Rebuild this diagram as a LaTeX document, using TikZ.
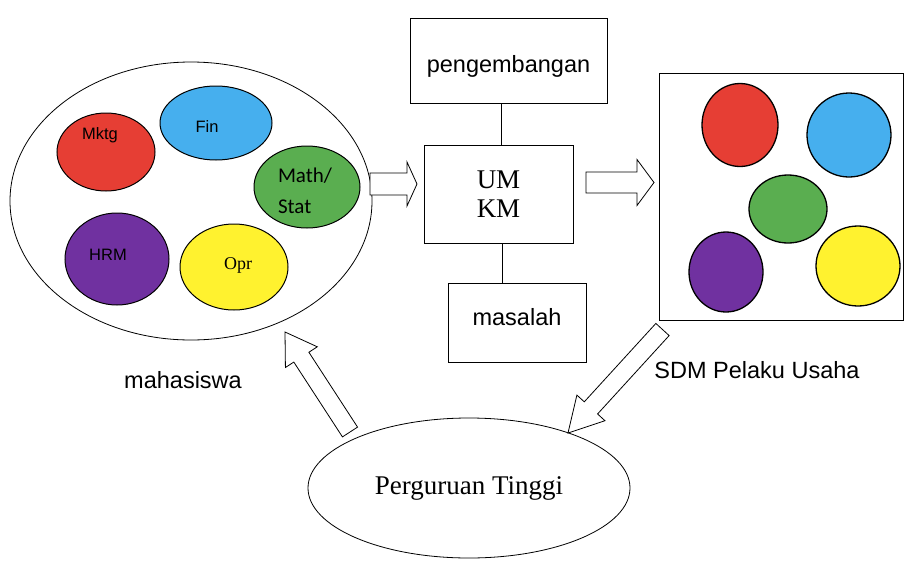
\documentclass[tikz,border=0pt]{standalone}
\usepackage{fontspec}
\setmainfont{Liberation Serif}
\setsansfont{Liberation Sans}
\newfontfamily\calibfont{Carlito}
\usetikzlibrary{shapes.geometric,calc}

\definecolor{mktgred}{HTML}{E63E34}
\definecolor{finblue}{HTML}{46AFEE}
\definecolor{mathgreen}{HTML}{5AAE50}
\definecolor{hrmpurple}{HTML}{7031A0}
\definecolor{opryellow}{HTML}{FFF22F}

% hollow block arrow: body half width, head half width, head length, from, to
\newcommand{\blockarrow}[5]{%
  \coordinate (bh) at ($(#5)!#3!(#4)$);
  \draw[fill=white, line width=0.8pt] ($(#4)!#1!90:(#5)$) -- ($(bh)!#1!90:(#5)$) -- ($(bh)!#2!90:(#5)$) -- (#5)
    -- ($(bh)!#2!-90:(#5)$) -- ($(bh)!#1!-90:(#5)$) -- ($(#4)!#1!-90:(#5)$) -- cycle;
}

\begin{document}
\begin{tikzpicture}[x=1pt, y=-1pt,
        box/.style={draw, line width=0.8pt, inner sep=0pt},
        ring/.style={ellipse, draw, line width=0.8pt, inner sep=0pt},
        dept/.style={ellipse, draw, line width=1pt, inner sep=0pt},
        small/.style={font=\sffamily\fontsize{16.5}{19}\selectfont},
        sanstext/.style={font=\sffamily\fontsize{23.5}{27}\selectfont},
        seriftext/.style={font=\fontsize{27}{29}\selectfont}
      ]
      \useasboundingbox (0,0) rectangle (905,560);

      % mahasiswa
      \node[ring, minimum width=362pt, minimum height=278pt] (mhs) at (191,201) {};
      \node[dept, fill=mktgred, minimum width=98pt, minimum height=78pt,
            label={[small, xshift=-6pt, yshift=17pt]center:Mktg}] (mktg) at (106,152) {};
      \node[dept, fill=finblue, minimum width=112pt, minimum height=74pt,
            label={[small, xshift=-9pt, yshift=-4pt]center:Fin}] (fin) at (216,123) {};
      \node[dept, fill=mathgreen, minimum width=106pt, minimum height=82pt,
            label={[font=\calibfont\fontsize{21}{31}\selectfont, align=left, xshift=-2pt, yshift=-4pt]center:Math/\\Stat}] (math) at (307,187) {};
      \node[dept, fill=hrmpurple, minimum width=104pt, minimum height=92pt,
            label={[small, xshift=-9pt, yshift=4pt]center:HRM}] (hrm) at (117,259) {};
      \node[dept, fill=opryellow, minimum width=108pt, minimum height=86pt,
            label={[font=\fontsize{18}{20}\selectfont, xshift=4pt, yshift=2pt]center:Opr}] (opr) at (234,267) {};
      \node[sanstext] (mhslbl) at (183,380) {mahasiswa};

      % UMKM
      \node[box, minimum width=197pt, minimum height=85pt,
            label={[sanstext, yshift=-6pt]center:pengembangan}] (peng) at (508.5,60.5) {};
      \node[box, minimum width=149pt, minimum height=98pt, seriftext, align=center] (umkm) at (498.5,194) {UM\\KM};
      \node[box, minimum width=138pt, minimum height=79pt,
            label={[sanstext, yshift=5pt]center:masalah}] (mas) at (517,322.5) {};
      \draw[line width=0.8pt] ([xshift=3pt]umkm.north) -- ([xshift=3pt]umkm.north |- peng.south);
      \draw[line width=0.8pt] ([xshift=4pt]umkm.south) -- ([xshift=4pt]umkm.south |- mas.north);

      % SDM pelaku usaha
      \node[box, minimum width=244pt, minimum height=247pt] (sdm) at (781,196.5) {};
      \node[dept, line width=1.3pt, fill=mktgred, minimum width=76pt, minimum height=83pt] (sred) at (740,125) {};
      \node[dept, line width=1.3pt, fill=finblue, minimum width=84pt, minimum height=84pt] (sblue) at (849,135) {};
      \node[dept, line width=1.3pt, fill=mathgreen, minimum width=78pt, minimum height=68pt] (sgreen) at (788,209) {};
      \node[dept, line width=1.3pt, fill=hrmpurple, minimum width=74pt, minimum height=80pt] (spurple) at (726,272) {};
      \node[dept, line width=1.3pt, fill=opryellow, minimum width=84pt, minimum height=80pt] (syellow) at (858,266) {};
      \node[sanstext] (sdmlbl) at (757,370) {SDM Pelaku Usaha};

      % perguruan tinggi
      \node[ring, minimum width=322pt, minimum height=140pt, seriftext] (pt) at (469,488) {Perguruan Tinggi};

      % block arrows
      \coordinate (a1s) at (370,184);
      \coordinate (a1e) at (417,184);
      \coordinate (a2s) at (586,182.5);
      \coordinate (a2e) at (654,182.5);
      \coordinate (a3s) at (662.5,329.5);
      \coordinate (a3e) at (568,433);
      \coordinate (a4s) at (350,432);
      \coordinate (a4e) at (285,332);
      \blockarrow{11pt}{22pt}{10pt}{a1s}{a1e}
      \blockarrow{10.5pt}{23pt}{17pt}{a2s}{a2e}
      \blockarrow{9pt}{19pt}{34pt}{a3s}{a3e}
      \blockarrow{9pt}{19pt}{30pt}{a4s}{a4e}
    \end{tikzpicture}
\end{document}
